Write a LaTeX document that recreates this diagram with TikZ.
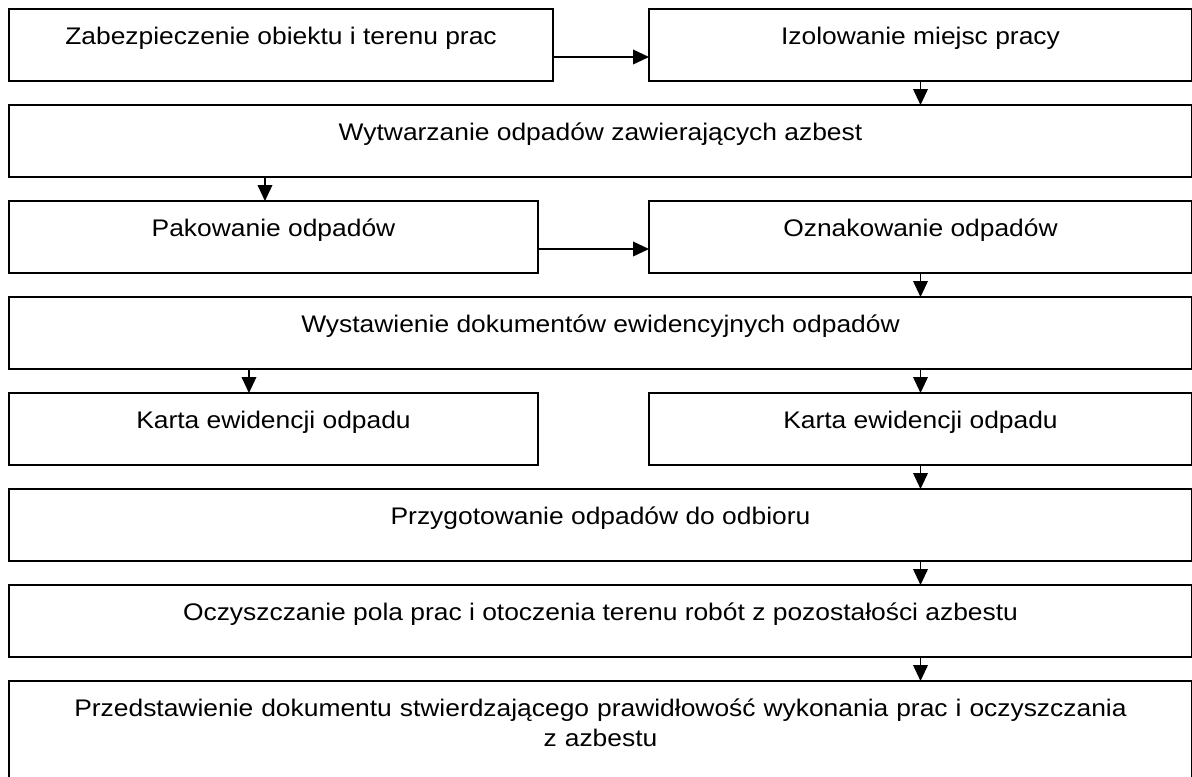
\documentclass[tikz,border=0pt]{standalone}
\usepackage{fontspec}
\setmainfont{Liberation Sans}[FakeStretch=1.1]
\usetikzlibrary{arrows.meta}
\tikzset{
  box/.style={draw, line width=1.5pt, rectangle, anchor=north west, outer sep=0pt,
    inner xsep=0pt, inner ysep=0pt, text height=26.25pt, text depth=27.75pt,
    font=\fontsize{18}{22.5}\selectfont},
  arr/.style={line width=1.2pt, -{Triangle[length=12pt,width=11pt]}}
}
\begin{document}
\begin{tikzpicture}[x=0.75pt,y=-0.75pt]
\useasboundingbox (0,0) rectangle (1192,776);
\clip (0,0) rectangle (1192,776);
\fill[white] (0,0) rectangle (1192,776);
\node[box, minimum width=408pt] (zab) at (9,9) {Zabezpieczenie obiektu i terenu prac};
\node[box, minimum width=407.25pt] (izo) at (649,9) {Izolowanie miejsc pracy};
\node[box, minimum width=887.25pt] (wyt) at (9,105) {Wytwarzanie odpadów zawierających azbest};
\node[box, minimum width=396.75pt] (pak) at (9,201) {Pakowanie odpadów};
\node[box, minimum width=407.25pt] (ozn) at (649,201) {Oznakowanie odpadów};
\node[box, minimum width=887.25pt] (wys) at (9,297) {Wystawienie dokumentów ewidencyjnych odpadów};
\node[box, minimum width=396.75pt] (k1) at (9,393) {Karta ewidencji odpadu};
\node[box, minimum width=407.25pt] (k2) at (649,393) {Karta ewidencji odpadu};
\node[box, minimum width=887.25pt] (prg) at (9,489) {Przygotowanie odpadów do odbioru};
\node[box, minimum width=887.25pt] (ocz) at (9,585) {Oczyszczanie pola prac i otoczenia terenu robót z pozostałości azbestu};
\node[box, text width=887.25pt, align=center, text depth=80pt] (prz) at (9,681) {Przedstawienie dokumentu stwierdzającego prawidłowość wykonania prac i oczyszczania\\z azbestu};
\draw[arr] ([yshift=-9pt]zab.east) -- ([yshift=-9pt]izo.west);
\draw[arr] (izo.south) -- (izo.south |- wyt.north);
\draw[arr] ([xshift=-6.4pt]pak.north |- wyt.south) -- ([xshift=-6.4pt]pak.north);
\draw[arr] ([yshift=-9pt]pak.east) -- ([yshift=-9pt]ozn.west);
\draw[arr] (ozn.south) -- (ozn.south |- wys.north);
\draw[arr] ([xshift=-18.4pt]k1.north |- wys.south) -- ([xshift=-18.4pt]k1.north);
\draw[arr] (k2.north |- wys.south) -- (k2.north);
\draw[arr] (k2.south) -- (k2.south |- prg.north);
\draw[arr] (k2.south |- prg.south) -- (k2.south |- ocz.north);
\draw[arr] (k2.south |- ocz.south) -- (k2.south |- prz.north);
\end{tikzpicture}
\end{document}
